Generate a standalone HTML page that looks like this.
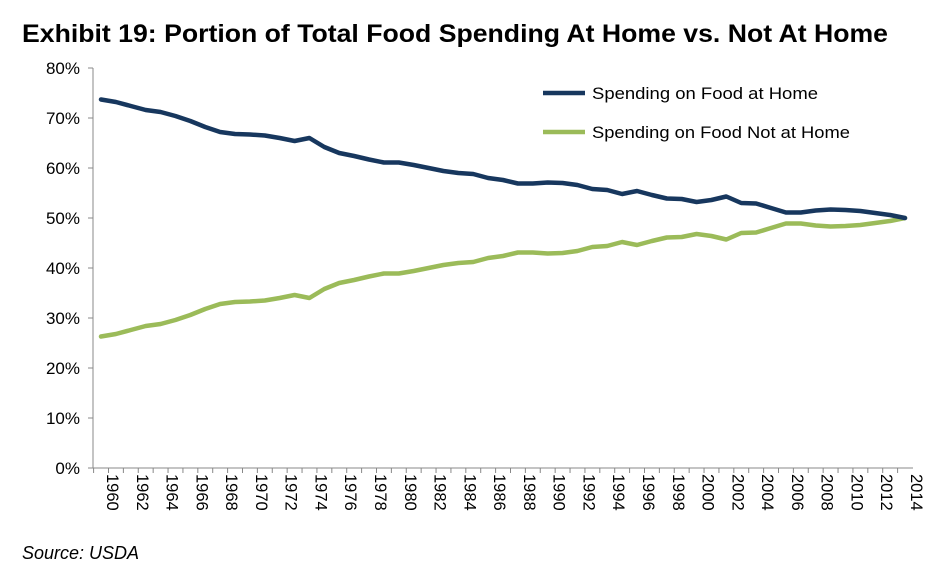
<!DOCTYPE html>
<html><head><meta charset="utf-8"><style>
body{margin:0;background:#fff;font-family:"Liberation Sans",Arial,sans-serif;}
</style></head><body>
<svg width="951" height="571" xmlns="http://www.w3.org/2000/svg">
<text x="22" y="42" font-size="25" font-weight="bold" fill="#000" textLength="866" lengthAdjust="spacingAndGlyphs">Exhibit 19: Portion of Total Food Spending At Home vs. Not At Home</text>
<g id="axes"></g>
<g id="series"></g>
<g>
<line x1="543" y1="93" x2="585" y2="93" stroke="#17375e" stroke-width="4.5"/>
<text x="592" y="99" font-size="17" textLength="226" lengthAdjust="spacingAndGlyphs">Spending on Food at Home</text>
<line x1="543" y1="132" x2="585" y2="132" stroke="#9bbb59" stroke-width="4.5"/>
<text x="592" y="138" font-size="17" textLength="258" lengthAdjust="spacingAndGlyphs">Spending on Food Not at Home</text>
</g>
<text x="22" y="559" font-size="18" font-style="italic">Source: USDA</text>
</svg>
<script>
const years=[];for(let y=1960;y<=2014;y++)years.push(y);
const homeValues=[73.7,73.2,72.4,71.6,71.2,70.4,69.4,68.2,67.2,66.8,66.7,66.5,66.0,65.4,66.0,64.2,63.0,62.4,61.7,61.1,61.1,60.6,60.0,59.4,59.0,58.8,58.0,57.6,56.9,56.9,57.1,57.0,56.6,55.8,55.6,54.8,55.4,54.6,53.9,53.8,53.2,53.6,54.3,53.0,52.9,52.0,51.1,51.1,51.5,51.7,51.6,51.4,51.0,50.6,50.0];
const awayValues=[26.3,26.8,27.6,28.4,28.8,29.6,30.6,31.8,32.8,33.2,33.3,33.5,34.0,34.6,34.0,35.8,37.0,37.6,38.3,38.9,38.9,39.4,40.0,40.6,41.0,41.2,42.0,42.4,43.1,43.1,42.9,43.0,43.4,44.2,44.4,45.2,44.6,45.4,46.1,46.2,46.8,46.4,45.7,47.0,47.1,48.0,48.9,48.9,48.5,48.3,48.4,48.6,49.0,49.4,50.0];
const yTicks=[0,10,20,30,40,50,60,70,80];
const NS="http://www.w3.org/2000/svg";
const x0=101,x1=905,yBase=468,yTop=68;
const xs=i=>x0+(x1-x0)*i/(years.length-1);
const ys=v=>yBase-(yBase-yTop)*v/80;
const axes=document.getElementById('axes'),ser=document.getElementById('series');
function mk(t,a,p){const e=document.createElementNS(NS,t);for(const k in a)e.setAttribute(k,a[k]);p.appendChild(e);return e;}
const ya=mk('line',{x1:93,y1:yTop,x2:93,y2:yBase,stroke:'#888','stroke-width':1},axes);


const xa=mk('line',{x1:93,y1:yBase,x2:913,y2:yBase,stroke:'#888','stroke-width':1},axes);


yTicks.forEach(v=>{
 mk('line',{x1:88,y1:ys(v),x2:93,y2:ys(v),stroke:'#888'},axes);
 const t=mk('text',{x:80,y:ys(v)+6,'font-size':17,'text-anchor':'end'},axes);t.textContent=v+'%';
 
 
});
years.forEach((y,i)=>{
 const x=xs(i);
 mk('line',{x1:x-7.4,y1:yBase,x2:x-7.4,y2:yBase+5,stroke:'#888'},axes);
 if(i%2===0){
  const t=mk('text',{x:0,y:0,'font-size':16.5,'text-anchor':'start',transform:`translate(${x+6},${yBase+6}) rotate(90)`},axes);t.textContent=y;
  
  
 }
});
function line(vals,color,name){
 const d=vals.map((v,i)=>(i?'L':'M')+xs(i).toFixed(1)+' '+ys(v).toFixed(1)).join(' ');
 const p=mk('path',{d:d,fill:'none',stroke:color,'stroke-width':4.5,'stroke-linejoin':'round','stroke-linecap':'round'},ser);
 
 
}
line(awayValues,'#9bbb59','line-food-not-at-home');
line(homeValues,'#17375e','line-food-at-home');
</script>
</body></html>
